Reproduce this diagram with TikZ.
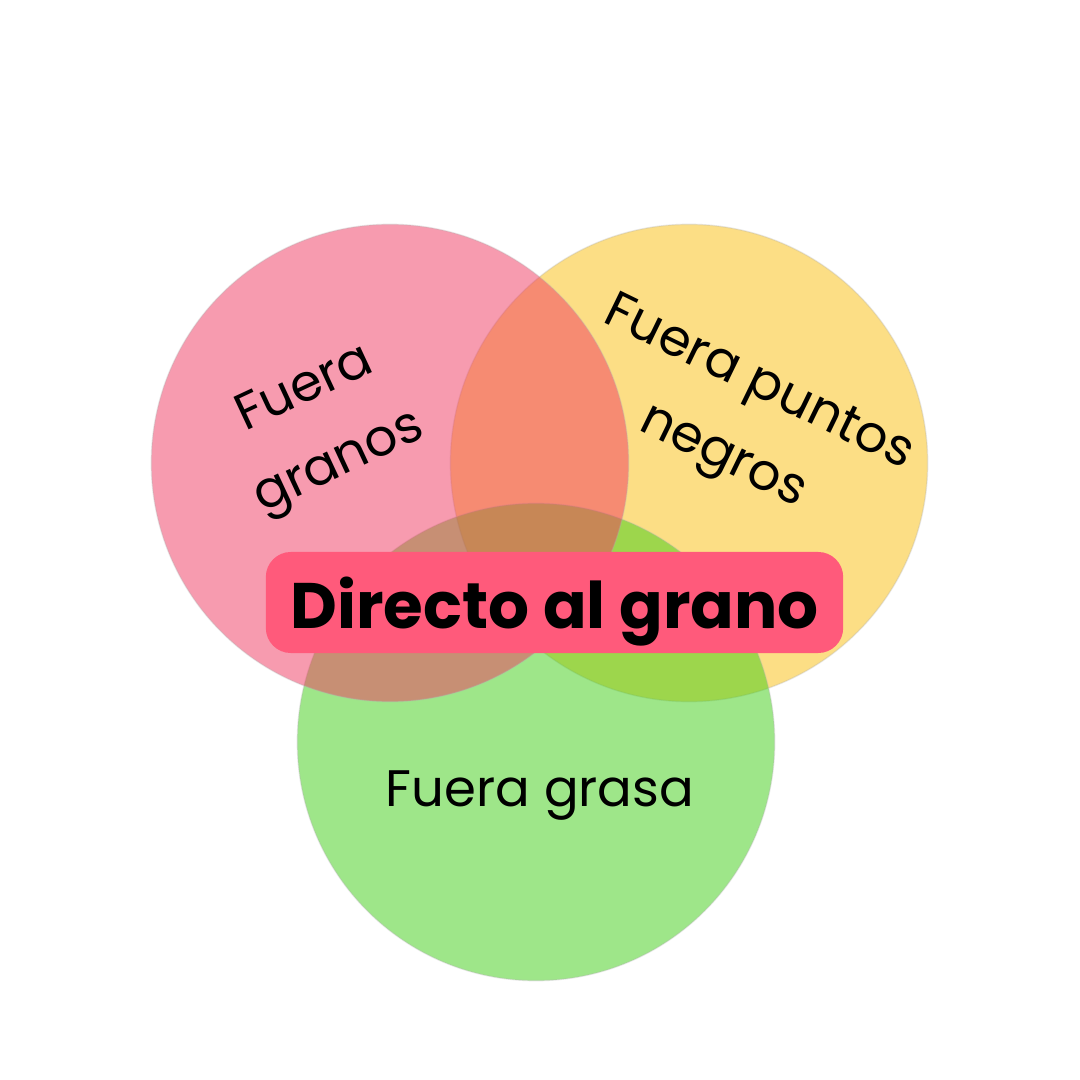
\documentclass[tikz,border=0pt]{standalone}
\usepackage{fontspec}
\setmainfont{Poppins}
\usetikzlibrary{positioning}
\definecolor{rosa}{HTML}{F13961}
\definecolor{amarillo}{HTML}{FBBF0D}
\definecolor{verde}{HTML}{3FCF15}
\definecolor{rojotitulo}{HTML}{FF5A7B}

\begin{document}
\begin{tikzpicture}[x=0.01cm, y=-0.01cm,
    circulo/.style={circle, minimum size=4.77cm, inner sep=0pt, fill opacity=0.5, draw=black!30, draw opacity=0.3, line width=0.4pt},
    etiqueta/.style={align=center, inner sep=0pt, font=\fontsize{14.6}{23}\selectfont},
    titulo/.style={rectangle, rounded corners=0.25cm, fill=rojotitulo, minimum width=5.77cm, minimum height=1.01cm, inner sep=0pt, text depth=0pt, font=\fontsize{18.3}{20}\selectfont\bfseries}]
    \fill[white] (0,0) rectangle (1080,1080);
    \useasboundingbox (0,0) rectangle (1080,1080);

    % Círculos
    \node[circulo, fill=amarillo] (puntos) at (689,463) {};
    \node[circulo, fill=verde] (grasa) at (536,742) {};
    \node[circulo, fill=rosa] (granos) at (390,463) {};

    % Textos
    \node[etiqueta, rotate=25] (txtgranos) at (323,428) {Fuera\\granos};
    \node[etiqueta, rotate=-26] (txtpuntos) at (740,422) {Fuera puntos\\negros};
    \node[etiqueta] (txtgrasa) at (540,796) {Fuera grasa};

    % Título
    \node[titulo] (lema) at (554.5,602.5) {Directo al grano};
\end{tikzpicture}
\end{document}
